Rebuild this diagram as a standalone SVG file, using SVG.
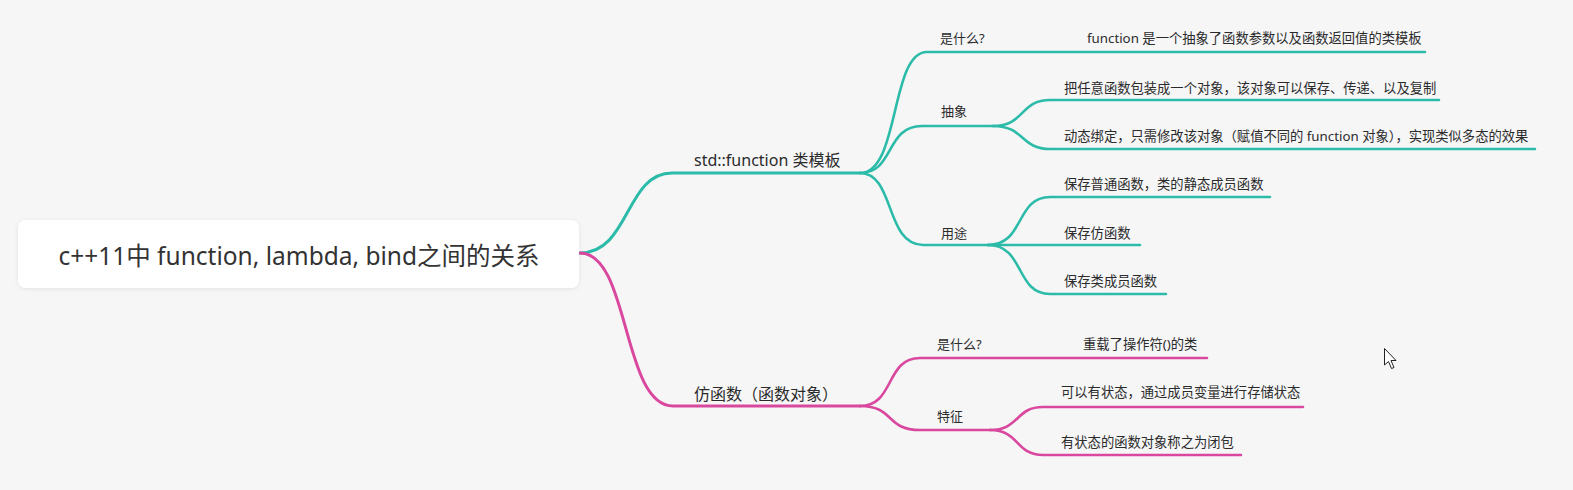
<svg xmlns="http://www.w3.org/2000/svg" width="1573" height="490" viewBox="0 0 1573 490">
<defs>
<filter id="sh" x="-5%" y="-20%" width="110%" height="150%">
<feDropShadow dx="0" dy="1" stdDeviation="2" flood-color="#000" flood-opacity="0.08"/>
</filter>
</defs>
<style>
text{font-family:"Noto Sans","Noto Sans CJK SC",sans-serif;fill:#2b2b2b}
.root{font-size:24.5px;fill:#333}
.l1{font-size:16px}
.l2{font-size:13px}
.l3{font-size:13.3px}
.t{fill:none;stroke:#2cbba9;stroke-linecap:round}
.p{fill:none;stroke:#d9489e;stroke-linecap:round}
.w1{stroke-width:3}
.w2{stroke-width:2.6}
</style>
<rect width="1573" height="490" fill="#f6f6f7"/>
<g id="connectors">
<path class="t w1" d="M580,253 C630,253 625,173 672,173 L860,173"/>
<path class="p w1" d="M580,253 C630,253 622,406 673,406 L860,406"/>
<path class="t w2" d="M860,173 C900,173 890,52 927,52 L1425,52"/>
<path class="t w2" d="M860,173 C895,173 885,126 922,126 L993,126"/>
<path class="t w2" d="M860,173 C895,173 885,245 923,245 L988,245"/>
<path class="t w2" d="M993,126 C1025,126 1020,100 1050,100 L1439,100"/>
<path class="t w2" d="M993,126 C1025,126 1020,149 1050,149 L1535,149"/>
<path class="t w2" d="M988,245 C1025,245 1015,197 1050,197 L1270,197"/>
<path class="t w2" d="M988,245 L1140,245"/>
<path class="t w2" d="M988,245 C1025,245 1015,294 1050,294 L1166,294"/>
<path class="p w2" d="M860,406 C895,406 885,358 920,358 L1207,358"/>
<path class="p w2" d="M860,406 C895,406 885,430 920,430 L990,430"/>
<path class="p w2" d="M990,430 C1020,430 1015,407 1043,407 L1303,407"/>
<path class="p w2" d="M990,430 C1020,430 1015,455 1043,455 L1241,455"/>
</g>
<g id="root">
<rect x="18" y="220" width="561" height="68" rx="8" fill="#fff" filter="url(#sh)"/>
<text class="root" x="299" y="265" text-anchor="middle">c++11中 function, lambda, bind之间的关系</text>
</g>
<g id="n-function"><text class="l1" x="694" y="166">std::function 类模板</text></g>
<g id="n-functor"><text class="l1" x="694" y="400">仿函数（函数对象）</text></g>
<g id="n-f-what"><text class="l2" x="940" y="43">是什么?</text></g>
<g id="n-f-what-a"><text class="l3" x="1087" y="43">function 是一个抽象了函数参数以及函数返回值的类模板</text></g>
<g id="n-f-abs"><text class="l2" x="941" y="116">抽象</text></g>
<g id="n-f-abs-1"><text class="l3" x="1064" y="93">把任意函数包装成一个对象，该对象可以保存、传递、以及复制</text></g>
<g id="n-f-abs-2"><text class="l3" x="1064" y="141">动态绑定，只需修改该对象（赋值不同的 function 对象），实现类似多态的效果</text></g>
<g id="n-f-use"><text class="l2" x="941" y="238">用途</text></g>
<g id="n-f-use-1"><text class="l3" x="1064" y="189">保存普通函数，类的静态成员函数</text></g>
<g id="n-f-use-2"><text class="l3" x="1064" y="238">保存仿函数</text></g>
<g id="n-f-use-3"><text class="l3" x="1064" y="286">保存类成员函数</text></g>
<g id="n-p-what"><text class="l2" x="937" y="349">是什么?</text></g>
<g id="n-p-what-a"><text class="l3" x="1083" y="349">重载了操作符()的类</text></g>
<g id="n-p-feat"><text class="l2" x="937" y="421">特征</text></g>
<g id="n-p-feat-1"><text class="l3" x="1061" y="397">可以有状态，通过成员变量进行存储状态</text></g>
<g id="n-p-feat-2"><text class="l3" x="1061" y="447">有状态的函数对象称之为闭包</text></g>
<path d="M1384.5,348.5 L1384.5,365 L1388.5,361.5 L1391.5,368.5 L1394,367.5 L1391,360.5 L1396,360.5 Z" fill="#fff" stroke="#222" stroke-width="1"/>
</svg>
